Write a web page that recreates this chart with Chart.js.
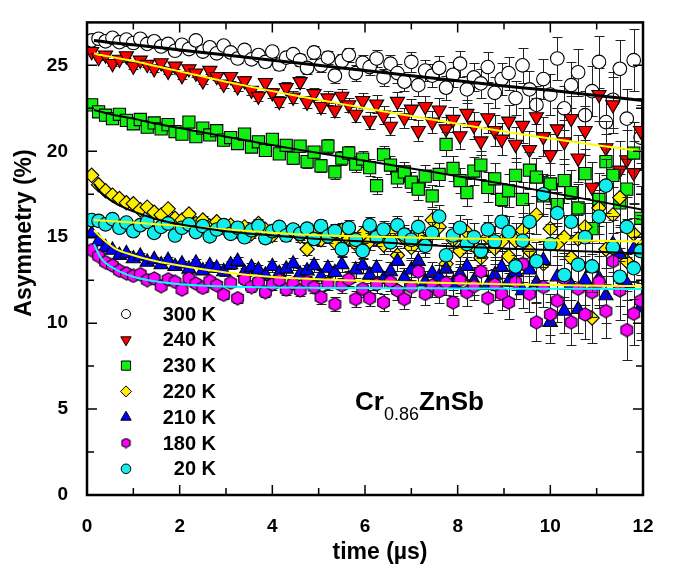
<!DOCTYPE html>
<html>
<head>
<meta charset="utf-8">
<script src="https://cdn.jsdelivr.net/npm/chart.js@4.4.0/dist/chart.umd.min.js"></script>
<style>
html,body{margin:0;padding:0;background:#fff;}
</style>
</head>
<body>
<canvas id="chart" width="680" height="570"></canvas>
<script>
// time grid (µs)
const time = [0.10,0.25,0.40,0.55,0.70,0.85,1.00,1.15,1.30,1.45,
  1.60,1.75,1.90,2.05,2.20,2.35,2.50,2.65,2.80,2.95,
  3.10,3.25,3.40,3.55,3.70,3.85,4.00,4.15,4.30,4.45,
  4.60,4.75,4.90,5.05,5.20,5.35,5.50,5.65,5.80,5.95,
  6.10,6.25,6.40,6.55,6.70,6.85,7.00,7.15,7.30,7.45,
  7.60,7.75,7.90,8.05,8.20,8.35,8.50,8.65,8.80,8.95,
  9.10,9.25,9.40,9.55,9.70,9.85,10.00,10.15,10.30,10.45,
  10.60,10.75,10.90,11.05,11.20,11.35,11.50,11.65,11.80,11.95]

// error bar half widths (%)
const err = [0.12,0.13,0.13,0.14,0.14,0.15,0.15,0.16,0.16,0.17,
  0.17,0.18,0.19,0.19,0.20,0.21,0.21,0.22,0.23,0.23,
  0.24,0.25,0.26,0.27,0.28,0.29,0.30,0.31,0.32,0.33,
  0.34,0.35,0.36,0.38,0.39,0.40,0.42,0.43,0.45,0.46,
  0.48,0.50,0.51,0.53,0.55,0.57,0.59,0.61,0.63,0.66,
  0.68,0.70,0.73,0.75,0.78,0.81,0.84,0.87,0.90,0.93,
  0.96,1.00,1.03,1.07,1.11,1.15,1.19,1.23,1.28,1.32,
  1.37,1.42,1.47,1.52,1.58,1.63,1.69,1.75,1.82,1.88]

const a300 = [26.45,26.55,26.40,26.60,26.35,26.50,26.30,26.55,26.25,26.40,
  26.10,26.25,25.85,26.20,25.95,26.45,25.80,26.05,25.70,26.15,
  25.75,25.40,25.90,25.35,25.60,25.20,25.80,25.05,25.45,25.65,
  25.30,24.85,25.75,25.00,25.45,24.40,25.25,25.60,24.55,25.15,
  24.90,25.40,24.30,25.10,24.55,24.05,25.20,23.85,24.70,24.40,
  24.85,23.70,24.45,25.10,23.60,24.30,23.95,24.90,23.40,24.20,
  24.55,23.10,25.00,23.60,22.70,24.20,23.30,25.40,22.50,23.85,
  24.60,22.10,23.50,25.20,21.70,23.00,24.80,21.90,25.30,20.80]

const a240 = [25.80,25.45,25.60,25.10,25.35,25.55,24.95,25.30,25.05,24.80,
  25.15,24.65,24.95,24.40,24.80,24.55,24.10,24.70,24.35,23.90,
  24.35,23.75,24.10,23.55,23.20,24.00,23.40,22.90,23.70,23.15,
  24.05,22.85,23.35,22.60,23.10,22.40,23.20,22.70,22.15,22.95,
  21.80,22.75,22.10,21.45,22.90,21.95,22.45,21.20,22.60,21.70,
  22.40,21.30,21.85,20.90,22.20,21.50,20.60,21.95,21.20,20.70,
  21.75,20.40,21.50,20.10,22.00,20.85,19.80,21.30,20.55,21.90,
  19.60,21.20,17.90,23.30,20.20,22.70,18.90,19.50,18.75,21.20]

const a230 = [22.70,22.30,22.10,21.90,22.15,21.80,21.60,21.85,21.40,21.65,
  21.30,21.55,21.15,21.00,21.70,20.85,21.35,20.95,21.20,20.65,
  20.80,20.45,21.00,20.25,20.55,20.05,20.70,19.85,20.35,19.60,
  20.30,19.40,19.95,19.15,20.30,18.80,19.60,19.90,19.25,19.55,
  19.05,18.00,19.80,19.20,18.45,18.80,18.20,17.80,18.55,17.40,
  18.65,20.40,19.00,18.30,17.60,18.85,19.20,17.90,18.40,17.20,
  17.70,18.60,17.20,18.90,18.50,17.40,18.10,16.90,18.30,17.60,
  16.70,18.70,15.50,17.20,19.40,18.60,17.00,17.80,19.90,16.10]

const a220 = [18.60,18.05,17.70,17.45,17.25,17.00,16.95,16.60,16.75,16.45,
  16.30,16.65,16.10,16.00,16.35,15.80,16.00,15.65,15.90,15.55,
  15.70,15.35,15.60,15.20,15.80,15.45,15.10,15.55,15.25,15.40,
  15.05,14.30,15.30,14.85,15.15,14.70,15.40,14.90,14.60,15.20,
  14.75,15.05,14.55,15.30,13.95,14.95,14.40,15.10,14.70,16.00,
  15.60,13.45,14.85,14.20,15.30,14.50,13.80,15.00,14.35,14.75,
  13.90,14.80,15.40,14.20,16.30,13.45,15.50,14.60,15.00,13.80,
  14.90,15.60,10.30,16.70,14.30,16.30,17.30,13.60,15.20,14.40]

const a210 = [15.20,14.75,14.40,14.25,13.95,14.05,13.75,13.90,13.55,13.70,
  13.40,13.65,13.30,13.45,13.15,13.50,13.05,13.35,13.20,13.00,
  13.40,13.60,12.95,13.25,13.10,12.80,13.30,12.90,13.15,13.45,
  12.85,13.05,13.35,12.70,13.20,12.95,13.40,12.60,13.10,13.35,
  12.80,13.20,12.55,13.00,13.60,12.65,13.10,13.60,12.40,12.90,
  12.70,13.15,12.30,12.85,13.30,12.45,12.95,12.20,12.80,13.25,
  12.40,12.95,11.90,13.10,12.35,13.65,10.05,12.70,10.70,12.20,
  10.80,12.50,13.20,12.60,11.60,14.60,14.00,12.30,14.30,10.90]

const a180 = [14.25,13.90,13.55,13.35,13.05,12.90,12.75,12.85,12.50,12.60,
  12.15,12.55,12.40,11.95,12.60,12.30,12.05,12.45,12.20,11.65,
  12.35,11.45,12.55,12.10,12.40,11.80,12.25,12.50,11.95,12.30,
  11.90,12.40,12.10,11.50,12.30,11.10,12.20,12.55,11.40,12.00,
  11.45,12.25,11.20,12.40,11.90,11.40,12.10,13.00,11.70,12.20,
  11.85,12.35,11.20,12.50,11.80,12.15,13.00,11.45,12.25,11.70,
  11.20,12.40,13.45,11.70,10.05,12.10,10.50,11.30,12.60,10.05,
  12.00,10.50,11.80,12.40,10.70,13.60,11.90,9.60,10.55,11.30]

const a20 = [16.00,15.95,15.75,16.05,15.55,15.85,15.35,15.70,15.90,15.25,
  15.60,15.80,15.10,15.55,15.75,15.30,15.65,15.05,15.45,15.70,
  15.20,15.55,15.00,15.40,15.65,14.95,15.35,15.60,15.10,15.45,
  15.20,15.50,14.90,15.65,15.05,15.35,14.30,15.55,14.85,14.20,
  15.70,15.00,15.45,14.70,15.70,15.15,14.85,15.60,14.50,15.25,
  16.20,13.95,15.10,15.55,14.60,15.00,14.20,15.45,14.75,15.90,
  15.30,13.30,14.80,15.90,13.60,17.50,14.60,16.40,12.80,15.90,
  13.40,15.00,13.30,16.20,18.00,14.40,12.70,15.60,13.20,14.20]

// fit curves
const fitTime = [0.15,0.3,0.6,1,1.5,2,3,4,5,6,7,8,9,10,11,12]
const fit300 = [26.45,26.4,26.3,26.2,26.05,25.9,25.6,25.3,25.0,24.7,24.4,24.1,23.8,23.55,23.25,22.95]
const fit240 = [25.7,25.6,25.45,25.25,24.95,24.65,24.05,23.5,23.0,22.5,22.05,21.6,21.15,20.75,20.35,20.0]
const fit230 = [22.4,22.3,22.1,21.9,21.6,21.35,20.85,20.35,19.9,19.45,19.0,18.55,18.1,17.6,17.1,16.6]
const fit220 = [18.1,17.6,17.0,16.5,16.05,15.75,15.35,15.1,14.9,14.75,14.6,14.45,14.35,14.25,14.15,14.05]
const fit210 = [15.4,15.0,14.35,13.95,13.6,13.35,12.95,12.68,12.55,12.45,12.38,12.32,12.27,12.22,12.18,12.15]
const fit180 = [14.6,13.8,13.15,12.7,12.42,12.27,12.13,12.07,12.05,12.04,12.03,12.02,12.01,12.0,12.0,11.99]
const fit20 = [16.0,15.97,15.92,15.85,15.75,15.66,15.45,15.26,15.12,15.04,14.98,14.93,14.88,14.83,14.79,14.75]

const labels = ["300 K","240 K","230 K","220 K","210 K","180 K","20 K"]
const xTicks = [0,2,4,6,8,10,12]
const xMinor = [1,3,5,7,9,11]
const yTicks = [0,5,10,15,20,25]
const yMinor = [2.5,7.5,12.5,17.5,22.5]

const FONT = "'Liberation Sans', Arial, sans-serif"

function hexagon(size){
  const c = document.createElement("canvas")
  c.width = c.height = size
  const g = c.getContext("2d")
  const r = size/2 - 0.8
  g.beginPath()
  for(let k=0;k<6;k++){
    const a = Math.PI/3*k - Math.PI/2
    const px = size/2 + r*Math.cos(a), py = size/2 + r*Math.sin(a)
    k ? g.lineTo(px,py) : g.moveTo(px,py)
  }
  g.closePath()
  g.fillStyle = "#ff00ff"; g.fill()
  g.lineWidth = 1.1; g.strokeStyle = "#000"; g.stroke()
  return c
}

// marker looks: [values, fill, pointStyle, radius, rotation, legendStyle, legendRadius]
const looks = [
  [a300, "#ffffff", "circle", 6.8, 0, "circle", 4.5],
  [a240, "#ff0000", "triangle", 8.2, 180, "triangle", 6],
  [a230, "#11ee11", "rect", 8.6, 0, "rect", 6.5],
  [a220, "#ffee00", "rectRot", 7.2, 0, "rectRot", 5.5],
  [a210, "#0000ff", "triangle", 8.2, 0, "triangle", 6],
  [a180, "#ff00ff", hexagon(15), 7.5, 0, hexagon(11), 5.5],
  [a20, "#11eeee", "circle", 6.8, 0, "circle", 4.8]
]

const fits = [
  [fit300, "#000000", 3],
  [fit240, "#ffff00", 2],
  [fit230, "#000000", 2],
  [fit220, "#000000", 2],
  [fit210, "#ffff00", 2],
  [fit180, "#00ffff", 2],
  [fit20, "#ffff00", 2]
]

const datasets = []
looks.forEach((s,k)=>{
  datasets.push({
    label: labels[k],
    data: time.map((t,i)=>({x:t, y:s[0][i]})),
    errs: err,
    showLine: false,
    pointStyle: s[2],
    pointRadius: s[3],
    pointRotation: s[4],
    backgroundColor: s[1],
    borderColor: "#000",
    pointBorderWidth: 1.1,
    order: 7 - k
  })
})
fits.forEach((f,k)=>{
  datasets.push({
    label: "fit " + labels[k],
    data: fitTime.map((t,i)=>({x:t, y:f[0][i]})),
    showLine: true,
    pointRadius: 0,
    borderColor: f[1],
    borderWidth: f[2],
    cubicInterpolationMode: "monotone",
    fill: false,
    order: 0
  })
})

const errorBars = {
  id: "errorBars",
  beforeDatasetDraw(chart, args){
    const ds = chart.data.datasets[args.index]
    if(!ds.errs) return
    const {ctx, chartArea:a, scales:{x,y}} = chart
    ctx.save()
    ctx.beginPath(); ctx.rect(a.left, a.top, a.right-a.left, a.bottom-a.top); ctx.clip()
    ctx.strokeStyle = "#222"; ctx.lineWidth = 1
    ctx.beginPath()
    ds.data.forEach((p,i)=>{
      const px = Math.round(x.getPixelForValue(p.x)) + 0.5
      const y1 = Math.round(y.getPixelForValue(p.y + ds.errs[i])) + 0.5
      const y2 = Math.round(y.getPixelForValue(p.y - ds.errs[i])) + 0.5
      ctx.moveTo(px,y1); ctx.lineTo(px,y2)
      ctx.moveTo(px-5,y1); ctx.lineTo(px+5,y1)
      ctx.moveTo(px-5,y2); ctx.lineTo(px+5,y2)
    })
    ctx.stroke()
    ctx.restore()
  }
}

const frame = {
  id: "frame",
  afterDraw(chart){
    const {ctx, chartArea:a, scales:{x,y}} = chart
    ctx.save()
    ctx.strokeStyle = "#000"
    // inward ticks
    ctx.lineWidth = 1.5
    ctx.beginPath()
    const tx = (v,len)=>{ const p = x.getPixelForValue(v)
      ctx.moveTo(p,a.bottom); ctx.lineTo(p,a.bottom-len)
      ctx.moveTo(p,a.top); ctx.lineTo(p,a.top+len) }
    const ty = (v,len)=>{ const p = y.getPixelForValue(v)
      ctx.moveTo(a.left,p); ctx.lineTo(a.left+len,p)
      ctx.moveTo(a.right,p); ctx.lineTo(a.right-len,p) }
    xTicks.forEach(v=>tx(v,10)); xMinor.forEach(v=>tx(v,7))
    yTicks.forEach(v=>ty(v,10)); yMinor.forEach(v=>ty(v,7))
    ctx.stroke()
    ctx.lineWidth = 2.5
    ctx.strokeRect(a.left, a.top, a.right-a.left, a.bottom-a.top)

    // axis titles
    ctx.fillStyle = "#000"
    ctx.font = "bold 23px " + FONT
    ctx.textAlign = "center"; ctx.textBaseline = "middle"
    ctx.fillText("time (\u00b5s)", 380, 553)
    ctx.save()
    ctx.translate(25, 233); ctx.rotate(-Math.PI/2)
    ctx.fillText("Asymmetry (%)", 0, 0)
    ctx.restore()

    // legend
    looks.forEach((s,k)=>{
      const cy = 314 + k*25.8
      ctx.fillStyle = s[1]; ctx.strokeStyle = "#000"; ctx.lineWidth = 1
      Chart.helpers.drawPoint(ctx, {pointStyle: s[5], radius: s[6], rotation: s[4], borderWidth: 1}, 126, cy)
      ctx.fillStyle = "#000"
      ctx.font = "bold 20px " + FONT
      ctx.textAlign = "right"; ctx.textBaseline = "middle"
      ctx.fillText(labels[k], 216, cy + 1)
    })

    // sample label
    ctx.textAlign = "left"; ctx.textBaseline = "alphabetic"
    let px = 355
    ctx.font = "bold 26px " + FONT
    ctx.fillText("Cr", px, 410); px += ctx.measureText("Cr").width
    ctx.font = "18px " + FONT
    ctx.fillText("0.86", px, 420); px += ctx.measureText("0.86").width
    ctx.font = "bold 26px " + FONT
    ctx.fillText("ZnSb", px, 410)
    ctx.restore()
  }
}

new Chart(document.getElementById("chart"), {
  type: "scatter",
  data: {datasets},
  options: {
    responsive: false,
    animation: false,
    layout: {padding: {top: 8, right: 37, left: 0, bottom: 0}},
    plugins: {legend: {display: false}, tooltip: {enabled: false}},
    scales: {
      x: {
        type: "linear", min: 0, max: 12,
        grid: {display: false}, border: {display: false},
        afterBuildTicks: s => { s.ticks = xTicks.map(v=>({value:v})) },
        afterFit: s => { s.height = 75 },
        ticks: {color: "#000", padding: 12, maxRotation: 0, font: {family: FONT, weight: "bold", size: 19}}
      },
      y: {
        type: "linear", min: 0, max: 27.5,
        grid: {display: false}, border: {display: false},
        afterBuildTicks: s => { s.ticks = yTicks.map(v=>({value:v})) },
        afterFit: s => { s.width = 87 },
        ticks: {color: "#000", padding: 11, font: {family: FONT, weight: "bold", size: 19}}
      }
    }
  },
  plugins: [errorBars, frame]
})
</script>
</body>
</html>
